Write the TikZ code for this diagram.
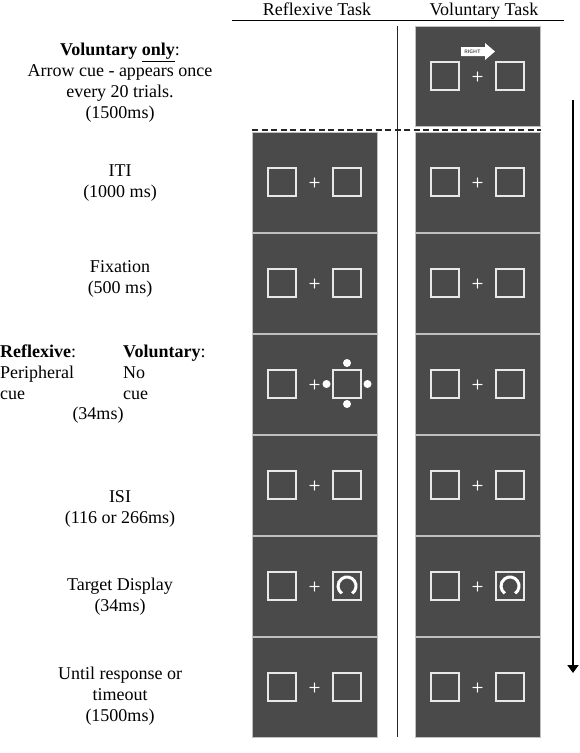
\documentclass[tikz,border=0pt]{standalone}
\usepackage{fontspec}
\setmainfont{Liberation Serif}
\usepackage{xcolor}
\usepackage{tikz}
\usetikzlibrary{positioning}
\usetikzlibrary{arrows.meta}
\definecolor{screengray}{HTML}{4A4A4A}
\definecolor{boxwhite}{HTML}{E8E8E8}

\begin{document}
\begin{tikzpicture}[x=1pt, y=-1pt,
    screen/.style={fill=screengray, draw=gray!50, line width=0.6pt, minimum width=125pt, minimum height=100pt, inner sep=0pt},
    holder/.style={draw=boxwhite, line width=1.8pt, minimum size=27.5pt, inner sep=0pt},
    fixcross/.style={text=white, inner sep=0pt, font=\sffamily\bfseries\fontsize{14}{14}\selectfont},
    cuedot/.style={circle, fill=white, minimum size=8pt, inner sep=0pt},
    phase/.style={align=center, inner sep=0pt, font=\fontsize{18}{21}\selectfont}]
    \useasboundingbox (0,0) rectangle (579,753);

    % column headings
    \node[phase, anchor=base] (refltask) at (317,15) {Reflexive Task};
    \node[phase, anchor=base] (voltask) at (484,15) {Voluntary Task};
    \draw[line width=1pt] (232,20) -- (564,20);

    % screens
    \node[screen] (vol0) at (477.5,76) {};
    \foreach \row/\ypos in {1/182, 2/283, 3/384, 4/485, 5/586, 6/687} {
        \node[screen] (refl\row) at (314.5,\ypos) {};
        \node[screen] (vol\row) at (477.5,\ypos) {};
    }
    \foreach \scr in {vol0, refl1, vol1, refl2, vol2, refl3, vol3, refl4, vol4, refl5, vol5, refl6, vol6} {
        \node[holder] (\scr-L) at ([xshift=-32.5pt]\scr.center) {};
        \node[holder] (\scr-R) at ([xshift=32.5pt]\scr.center) {};
        \node[fixcross] (\scr-X) at ([yshift=-0.5pt]\scr.center) {+};
    }

    % arrow cue
    \fill[white] (461,47) -- (485,47) -- (485,43) -- (495,51.5) -- (485,60) -- (485,56) -- (461,56) -- cycle;
    \node[text=screengray, inner sep=0pt, font=\sffamily\bfseries\fontsize{5}{5}\selectfont] (rightword) at (472.5,51.5) {RIGHT};

    % peripheral cue
    \node[cuedot] (dotN) at ([yshift=21pt]refl3-R.center) {};
    \node[cuedot] (dotS) at ([yshift=-20pt]refl3-R.center) {};
    \node[cuedot] (dotW) at ([xshift=-20.5pt]refl3-R.center) {};
    \node[cuedot] (dotE) at ([xshift=20.5pt]refl3-R.center) {};

    % targets
    \foreach \scr in {refl5, vol5} {
        \draw[white, line width=3pt] ([shift={(-55:9pt)}]\scr-R.center) arc[start angle=-55, end angle=235, radius=9pt];
    }

    % separators
    \draw[line width=1pt, gray!30!black] (397,26) -- (397,737);
    \draw[line width=1.3pt, dash pattern=on 6pt off 3.5pt, gray!30!black] (252,130) -- (541,130);

    % time arrow
    \coordinate (tstart) at (573,100);
    \coordinate (tend) at (573,673);
    \draw[line width=2pt, -{Triangle[width=11pt, length=8pt]}] (tstart) -- (tend);

    % phase labels
    \node[phase] (cuetext) at (120,83) {\textbf{Voluntary \underline{only}}:\\Arrow cue - appears once\\every 20 trials.\\(1500ms)};
    \node[phase] (iti) at (120,183.5) {ITI\\(1000 ms)};
    \node[phase] (fixation) at (120,279) {Fixation\\(500 ms)};
    \node[phase, align=left, anchor=west] (reflcue) at (0,372.5) {\textbf{Reflexive}:\\Peripheral\\cue};
    \node[phase, align=left, anchor=west] (volcue) at (123,372.5) {\textbf{Voluntary}:\\No\\cue};
    \node[phase] (cuetime) at (98,415) {(34ms)};
    \node[phase] (isi) at (120,508.5) {ISI\\(116 or 266ms)};
    \node[phase] (target) at (120,597) {Target Display\\(34ms)};
    \node[phase] (response) at (120,696) {Until response or\\timeout\\(1500ms)};
\end{tikzpicture}
\end{document}
